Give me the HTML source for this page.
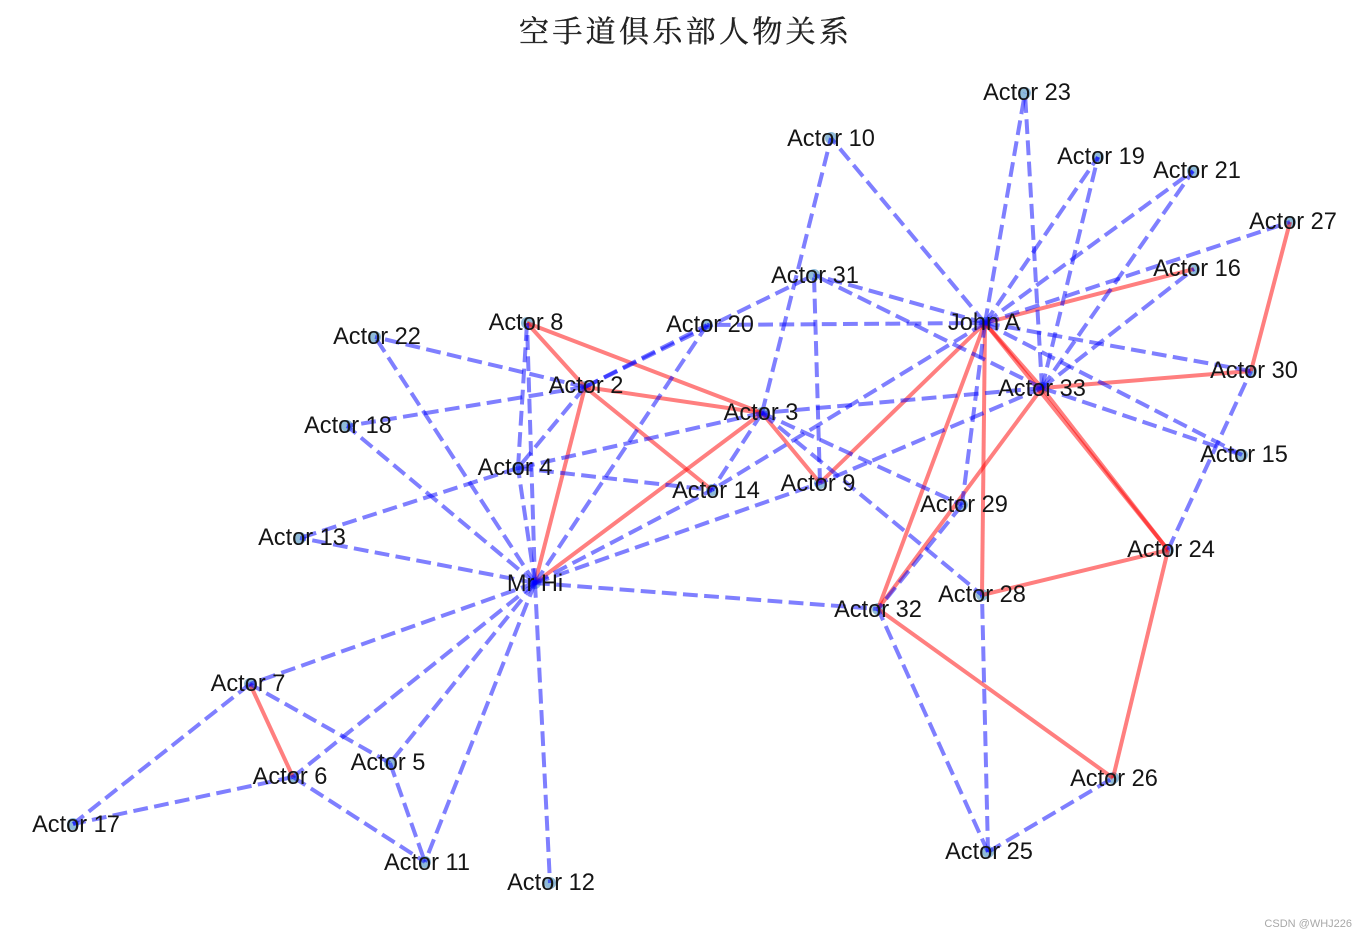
<!DOCTYPE html>
<html><head><meta charset="utf-8"><style>
html,body{margin:0;padding:0;background:#fff}
svg{display:block}
.b line{stroke:#00f;stroke-opacity:.5;stroke-width:4;stroke-dasharray:14.8 6.4}
.r line{stroke:#f00;stroke-opacity:.5;stroke-width:4}
.n circle{fill:#1f78b4;fill-opacity:.5}
.l text{font-family:"Liberation Sans",Arial,sans-serif;font-size:23.6px;fill:#151515;text-anchor:middle}
</style></head><body>
<svg width="1367" height="937" viewBox="0 0 1367 937" xmlns="http://www.w3.org/2000/svg">
<g class="n">
<circle cx="535" cy="583" r="6"/><circle cx="585" cy="387" r="6"/><circle cx="762" cy="413" r="6"/><circle cx="518" cy="468" r="6"/>
<circle cx="390" cy="763" r="6"/><circle cx="293" cy="777" r="6"/><circle cx="250" cy="684" r="6"/><circle cx="527" cy="323" r="6"/>
<circle cx="820" cy="483" r="6"/><circle cx="831" cy="138" r="6"/><circle cx="425" cy="862" r="6"/><circle cx="550" cy="883" r="6"/>
<circle cx="300" cy="538" r="6"/><circle cx="712" cy="490" r="6"/><circle cx="1242" cy="455" r="6"/><circle cx="1194" cy="269" r="6"/>
<circle cx="73" cy="824" r="6"/><circle cx="347" cy="426" r="6"/><circle cx="1098" cy="157" r="6"/><circle cx="707" cy="325" r="6"/>
<circle cx="1193" cy="171" r="6"/><circle cx="375" cy="337" r="6"/><circle cx="1025" cy="93" r="6"/><circle cx="1168" cy="550" r="6"/>
<circle cx="988" cy="852" r="6"/><circle cx="1113" cy="778" r="6"/><circle cx="1290" cy="222" r="6"/><circle cx="982" cy="595" r="6"/>
<circle cx="962" cy="505" r="6"/><circle cx="1251" cy="371" r="6"/><circle cx="814" cy="275" r="6"/><circle cx="878" cy="609" r="6"/>
<circle cx="1042" cy="388" r="6"/><circle cx="985" cy="323" r="6"/>
</g>
<g class="r">
<line x1="535" y1="583" x2="585" y2="387"/>
<line x1="535" y1="583" x2="762" y2="413"/>
<line x1="585" y1="387" x2="762" y2="413"/>
<line x1="585" y1="387" x2="527" y2="323"/>
<line x1="762" y1="413" x2="527" y2="323"/>
<line x1="585" y1="387" x2="712" y2="490"/>
<line x1="762" y1="413" x2="820" y2="483"/>
<line x1="820" y1="483" x2="985" y2="323"/>
<line x1="1194" y1="269" x2="985" y2="323"/>
<line x1="878" y1="609" x2="985" y2="323"/>
<line x1="878" y1="609" x2="1042" y2="388"/>
<line x1="982" y1="595" x2="985" y2="323"/>
<line x1="1168" y1="550" x2="982" y2="595"/>
<line x1="1168" y1="550" x2="1113" y2="778"/>
<line x1="1113" y1="778" x2="878" y2="609"/>
<line x1="1290" y1="222" x2="1251" y2="371"/>
<line x1="1251" y1="371" x2="1042" y2="388"/>
<line x1="1042" y1="388" x2="985" y2="323"/>
<line x1="1168" y1="550" x2="1042" y2="388"/>
<line x1="1168" y1="550" x2="985" y2="323"/>
<line x1="293" y1="777" x2="250" y2="684"/>
</g>
<g class="b">
<line x1="535" y1="583" x2="518" y2="468"/>
<line x1="535" y1="583" x2="390" y2="763"/>
<line x1="535" y1="583" x2="293" y2="777"/>
<line x1="535" y1="583" x2="250" y2="684"/>
<line x1="535" y1="583" x2="527" y2="323"/>
<line x1="535" y1="583" x2="820" y2="483"/>
<line x1="535" y1="583" x2="425" y2="862"/>
<line x1="535" y1="583" x2="550" y2="883"/>
<line x1="535" y1="583" x2="300" y2="538"/>
<line x1="535" y1="583" x2="712" y2="490"/>
<line x1="535" y1="583" x2="347" y2="426"/>
<line x1="535" y1="583" x2="707" y2="325"/>
<line x1="535" y1="583" x2="375" y2="337"/>
<line x1="535" y1="583" x2="878" y2="609"/>
<line x1="585" y1="387" x2="518" y2="468"/>
<line x1="585" y1="387" x2="347" y2="426"/>
<line x1="585" y1="387" x2="707" y2="325"/>
<line x1="585" y1="387" x2="375" y2="337"/>
<line x1="585" y1="387" x2="814" y2="275"/>
<line x1="762" y1="413" x2="518" y2="468"/>
<line x1="762" y1="413" x2="831" y2="138"/>
<line x1="762" y1="413" x2="712" y2="490"/>
<line x1="762" y1="413" x2="982" y2="595"/>
<line x1="762" y1="413" x2="962" y2="505"/>
<line x1="1042" y1="388" x2="762" y2="413"/>
<line x1="518" y1="468" x2="527" y2="323"/>
<line x1="518" y1="468" x2="300" y2="538"/>
<line x1="518" y1="468" x2="712" y2="490"/>
<line x1="390" y1="763" x2="250" y2="684"/>
<line x1="390" y1="763" x2="425" y2="862"/>
<line x1="293" y1="777" x2="425" y2="862"/>
<line x1="293" y1="777" x2="73" y2="824"/>
<line x1="250" y1="684" x2="73" y2="824"/>
<line x1="820" y1="483" x2="814" y2="275"/>
<line x1="1042" y1="388" x2="820" y2="483"/>
<line x1="985" y1="323" x2="831" y2="138"/>
<line x1="985" y1="323" x2="712" y2="490"/>
<line x1="1042" y1="388" x2="1242" y2="455"/>
<line x1="985" y1="323" x2="1242" y2="455"/>
<line x1="1042" y1="388" x2="1194" y2="269"/>
<line x1="1042" y1="388" x2="1098" y2="157"/>
<line x1="985" y1="323" x2="1098" y2="157"/>
<line x1="985" y1="323" x2="707" y2="325"/>
<line x1="1042" y1="388" x2="1193" y2="171"/>
<line x1="985" y1="323" x2="1193" y2="171"/>
<line x1="1042" y1="388" x2="1025" y2="93"/>
<line x1="985" y1="323" x2="1025" y2="93"/>
<line x1="985" y1="323" x2="1290" y2="222"/>
<line x1="962" y1="505" x2="878" y2="609"/>
<line x1="985" y1="323" x2="962" y2="505"/>
<line x1="1168" y1="550" x2="1251" y2="371"/>
<line x1="985" y1="323" x2="1251" y2="371"/>
<line x1="1042" y1="388" x2="814" y2="275"/>
<line x1="985" y1="323" x2="814" y2="275"/>
<line x1="988" y1="852" x2="1113" y2="778"/>
<line x1="988" y1="852" x2="982" y2="595"/>
<line x1="988" y1="852" x2="878" y2="609"/>
</g>
<g class="l">
<text x="535" y="591">Mr Hi</text>
<text x="586" y="393">Actor 2</text>
<text x="761" y="420">Actor 3</text>
<text x="515" y="475">Actor 4</text>
<text x="388" y="770">Actor 5</text>
<text x="290" y="784">Actor 6</text>
<text x="248" y="691">Actor 7</text>
<text x="526" y="330">Actor 8</text>
<text x="818" y="491">Actor 9</text>
<text x="831" y="146">Actor 10</text>
<text x="427" y="870">Actor 11</text>
<text x="551" y="890">Actor 12</text>
<text x="302" y="545">Actor 13</text>
<text x="716" y="498">Actor 14</text>
<text x="1244" y="462">Actor 15</text>
<text x="1197" y="276">Actor 16</text>
<text x="76" y="832">Actor 17</text>
<text x="348" y="433">Actor 18</text>
<text x="1101" y="164">Actor 19</text>
<text x="710" y="332">Actor 20</text>
<text x="1197" y="178">Actor 21</text>
<text x="377" y="344">Actor 22</text>
<text x="1027" y="100">Actor 23</text>
<text x="1171" y="557">Actor 24</text>
<text x="989" y="859">Actor 25</text>
<text x="1114" y="786">Actor 26</text>
<text x="1293" y="229">Actor 27</text>
<text x="982" y="602">Actor 28</text>
<text x="964" y="512">Actor 29</text>
<text x="1254" y="378">Actor 30</text>
<text x="815" y="283">Actor 31</text>
<text x="878" y="617">Actor 32</text>
<text x="1042" y="396">Actor 33</text>
<text x="984" y="330">John A</text>
</g>
<text x="519" y="42" font-family="'Noto Serif CJK SC',serif" font-size="30" fill="#222" stroke="#222" stroke-width=".35" textLength="330" lengthAdjust="spacing">空手道俱乐部人物关系</text>
<text x="1352" y="927" text-anchor="end" font-family="'Liberation Sans',sans-serif" font-size="11" fill="#a8a8a8">CSDN @WHJ226</text>
</svg>
</body></html>
